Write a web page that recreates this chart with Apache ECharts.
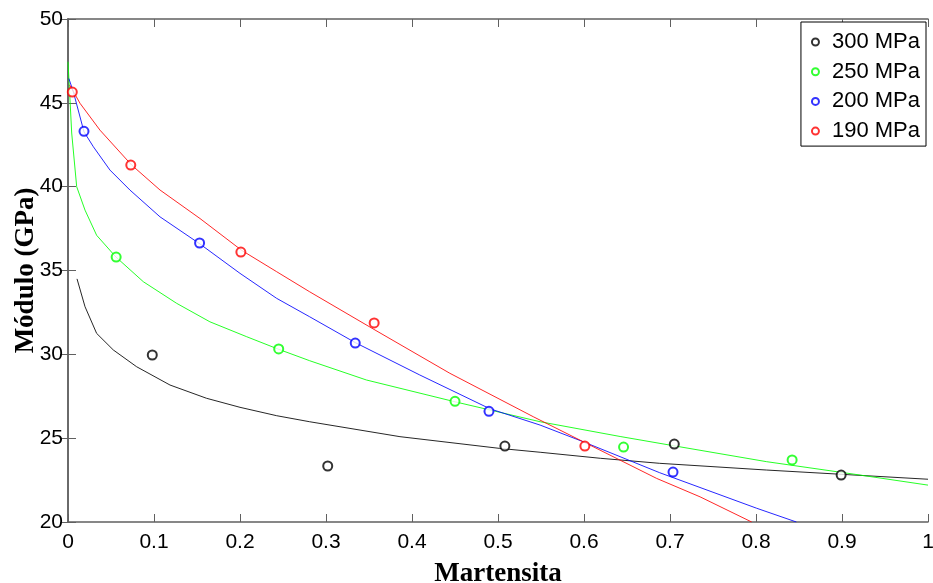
<!DOCTYPE html>
<html>
<head>
<meta charset="utf-8">
<script src="https://cdn.jsdelivr.net/npm/echarts@6/dist/echarts.min.js"></script>
<style>
html,body{margin:0;padding:0;background:#fff;}
#chart{width:933px;height:583px;}
</style>
</head>
<body>
<div id="chart"></div>
<script>
// Series names
const seriesNames = ['300 MPa', '250 MPa', '200 MPa', '190 MPa'];

// Measured points [martensita, módulo]
const pts300 = [[0.098, 29.96], [0.302, 23.34], [0.508, 24.53], [0.705, 24.65], [0.899, 22.8]];
const pts250 = [[0.056, 35.8], [0.245, 30.32], [0.45, 27.2], [0.646, 24.47], [0.842, 23.7]];
const pts200 = [[0.0186, 43.3], [0.153, 36.64], [0.334, 30.67], [0.4895, 26.6], [0.7035, 22.98]];
const pts190 = [[0.005, 45.64], [0.073, 41.29], [0.201, 36.1], [0.356, 31.87], [0.601, 24.53]];

// Fitted curves [martensita, módulo]
const fit300 = [[0.0105, 34.5], [0.0198, 32.84], [0.0333, 31.25], [0.0527, 30.26], [0.0798, 29.26],
  [0.1186, 28.17], [0.161, 27.38], [0.2, 26.84], [0.2426, 26.34], [0.281, 25.98], [0.386, 25.09],
  [0.502, 24.39], [0.549, 24.16], [0.619, 23.8], [0.688, 23.5], [0.812, 23.1], [1.0, 22.55]];
const fit250 = [[0.0, 47.45], [0.002, 45.5], [0.0043, 43.2], [0.0101, 40.0], [0.0198, 38.6],
  [0.0333, 37.1], [0.0558, 35.8], [0.0876, 34.33], [0.1264, 33.04], [0.165, 31.94], [0.2078, 31.05],
  [0.245, 30.3], [0.281, 29.62], [0.347, 28.47], [0.45, 27.17], [0.549, 25.98], [0.642, 25.1],
  [0.704, 24.55], [0.812, 23.6], [0.913, 22.86], [1.0, 22.2]];
const fit200 = [[0.001, 46.45], [0.0062, 45.66], [0.0186, 43.27], [0.0295, 42.38], [0.0488, 40.99],
  [0.072, 39.8], [0.107, 38.2], [0.1535, 36.58], [0.2, 34.83], [0.2426, 33.34], [0.281, 32.24],
  [0.334, 30.7], [0.409, 28.77], [0.4907, 26.75], [0.549, 25.78], [0.599, 24.79], [0.688, 22.94],
  [0.8008, 20.82], [0.847, 20.0]];
const fit190 = [[0.002, 46.06], [0.014, 44.97], [0.0372, 43.37], [0.074, 41.29], [0.107, 39.8],
  [0.1535, 38.1], [0.202, 36.2], [0.2426, 34.93], [0.281, 33.73], [0.357, 31.45], [0.444, 28.87],
  [0.541, 26.28], [0.599, 24.79], [0.6845, 22.6], [0.735, 21.5], [0.795, 20.0]];

// Axis ticks
const xTicks = [0, 0.1, 0.2, 0.3, 0.4, 0.5, 0.6, 0.7, 0.8, 0.9, 1];
const yTicks = [20, 25, 30, 35, 40, 45, 50];

const colors = ['#000000', '#00ff00', '#0000ff', '#ff0000'];
const pointSets = [pts300, pts250, pts200, pts190];
const fitSets = [fit300, fit250, fit200, fit190];

const chart = echarts.init(document.getElementById('chart'), null, {renderer: 'canvas'});

const axisLine = {show: true, lineStyle: {color: '#606060', width: 1.5}};
const axisTick = {show: true, inside: true, length: 8, lineStyle: {color: '#606060', width: 1}};
const labelFont = {fontFamily: 'Liberation Sans', fontSize: 21, color: '#000'};

function fmtX(v) { return v === 0 ? '0' : (v === 1 ? '1' : String(Math.round(v * 10) / 10)); }

const series = [];
fitSets.forEach((d, i) => {
  series.push({
    name: seriesNames[i] + ' ajuste', type: 'line', data: d, showSymbol: false, symbol: 'none',
    smooth: false, clip: true,
    lineStyle: {color: colors[i], width: 1, opacity: 0.85}, z: 2, silent: true
  });
});
pointSets.forEach((d, i) => {
  series.push({
    name: seriesNames[i], type: 'scatter', data: d, symbol: 'emptyCircle', symbolSize: 9,
    itemStyle: {color: colors[i], borderColor: colors[i], borderWidth: 1, opacity: 0.8}, z: 3
  });
});

chart.setOption({
  backgroundColor: '#fff',
  animation: false,
  color: colors,
  grid: {left: 68, right: 5, top: 19, bottom: 61, containLabel: false, outerBoundsMode: 'none'},
  legend: {
    data: seriesNames.map((n) => ({name: n, icon: 'emptyCircle'})),
    orient: 'vertical', right: 7, top: 22,
    itemWidth: 7, itemHeight: 7, itemGap: 7.7,
    padding: [9, 6, 4, 10],
    backgroundColor: '#fff', borderColor: '#000', borderWidth: 1,
    textStyle: {fontFamily: 'Liberation Sans', fontSize: 22, color: '#000', lineHeight: 20, padding: [0, 0, 0, 8]}
  },
  xAxis: [{
    type: 'value', min: 0, max: 1, interval: 0.1,
    name: 'Martensita', nameLocation: 'middle', nameGap: 39,
    nameTextStyle: {fontFamily: 'Liberation Serif', fontWeight: 'bold', fontSize: 27, color: '#000'},
    axisLine: axisLine, axisTick: axisTick, splitLine: {show: false},
    axisLabel: Object.assign({margin: 10, formatter: fmtX, customValues: xTicks}, labelFont)
  }, {
    type: 'value', min: 0, max: 1, interval: 0.1, position: 'top',
    axisLine: axisLine, axisTick: axisTick, splitLine: {show: false}, axisLabel: {show: false}
  }],
  yAxis: [{
    type: 'value', min: 20, max: 50, interval: 5,
    name: 'Módulo (GPa)', nameLocation: 'middle', nameGap: 28, nameMoveOverlap: false,
    nameTextStyle: {fontFamily: 'Liberation Serif', fontWeight: 'bold', fontSize: 27, color: '#000'},
    axisLine: axisLine, axisTick: axisTick, splitLine: {show: false},
    axisLabel: Object.assign({margin: 5, customValues: yTicks}, labelFont)
  }, {
    type: 'value', min: 20, max: 50, interval: 5, position: 'right',
    axisLine: axisLine, axisTick: axisTick, splitLine: {show: false}, axisLabel: {show: false}
  }],
  series: series
});
</script>
</body>
</html>
